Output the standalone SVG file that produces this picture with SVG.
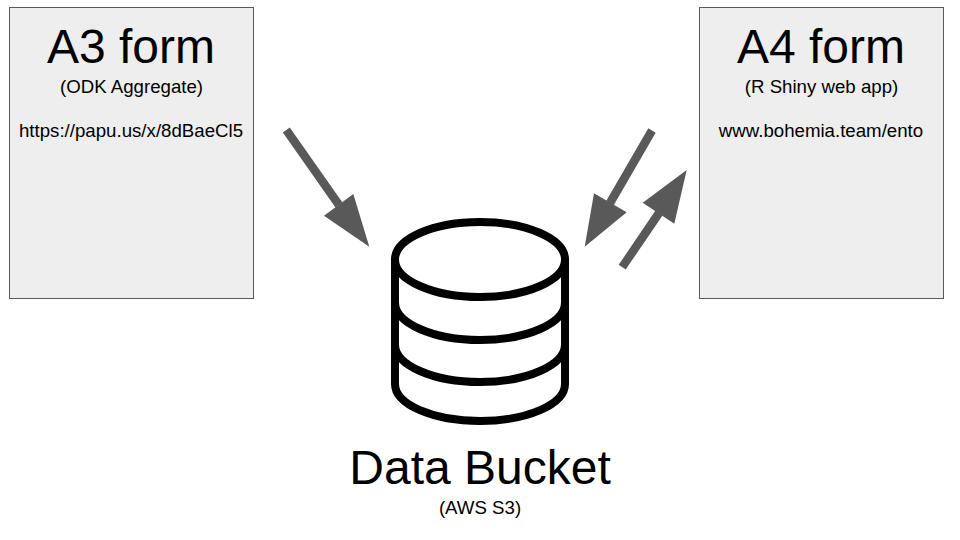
<svg xmlns="http://www.w3.org/2000/svg" width="960" height="540" viewBox="0 0 960 540">
<style>
text{font-family:"Liberation Sans",Arial,sans-serif;fill:#000;text-anchor:middle}
.box{fill:#eeeeee;stroke:#595959;stroke-width:1}
.t{font-size:48px}.s{font-size:18.67px}
.a{stroke:#595959;stroke-width:8.5;fill:none}
.h{fill:#595959}
.db{fill:none;stroke:#000;stroke-width:8}
</style>
<rect width="960" height="540" fill="#fff"/>
<g id="a3"><rect class="box" x="9.500" y="7.500" width="244" height="291"/>
<text class="t" x="131" y="63">A3 form</text><text class="s" x="131.500" y="93">(ODK Aggregate)</text><text class="s" x="131" y="137">https://papu.us/x/8dBaeCl5</text></g>
<g id="a4"><rect class="box" x="699.500" y="7.500" width="244" height="291"/>
<text class="t" x="821" y="63">A4 form</text><text class="s" x="821.500" y="93">(R Shiny web app)</text><text class="s" x="821" y="137">www.bohemia.team/ento</text></g>
<g id="bucket">
<ellipse class="db" cx="480" cy="259.500" rx="85" ry="37.500"/>
<path class="db" d="M395 259.500V384A85 37 0 0 0 565 384V259.500M395 302.500A85 37.500 0 0 0 565 302.500M395 344.500A85 37.500 0 0 0 565 344.500"/>
<text x="480" y="484" font-size="48">Data Bucket</text><text class="s" x="480" y="514">(AWS S3)</text></g>
<g id="connectors">
<path class="a" d="M286.300 130L339 205"/><polygon class="h" points="369.300,246.700 353.300,194 324,215.700"/>
<path class="a" d="M652 130.500L610 203"/><polygon class="h" points="584.700,246.700 594,193.300 626.700,212.300"/>
<path class="a" d="M622.200 267.200L659 213"/><polygon class="h" points="686.700,170 642.700,202.700 674.300,223.700"/>
</g>
</svg>
